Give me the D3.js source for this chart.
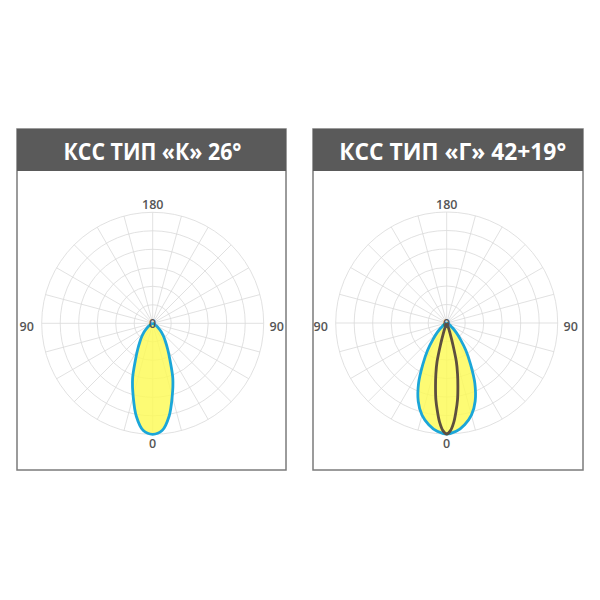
<!DOCTYPE html>
<html>
<head>
<meta charset="utf-8">
<script src="https://cdn.jsdelivr.net/npm/d3@7/dist/d3.min.js"></script>
<style>
  html, body { margin: 0; padding: 0; background: #fff; }
  svg { display: block; }
</style>
</head>
<body>
<svg id="chart" width="600" height="600"></svg>
<script>
// ---- data ----
const titles = ["КСС ТИП «К» 26°", "КСС ТИП «Г» 42+19°"];
const angleTickLabels = ["180", "90", "90", "0", "0"]; // top, left, right, bottom, centre
// angles (deg from nadir, one half; curves are symmetric)
const anglesK = [0, 5, 10, 15, 20, 25, 30, 35, 40, 45, 50, 55, 60, 70, 80, 90];
const intensityK = [100, 97, 85, 68, 53, 37, 27, 20, 15, 11, 7, 4, 2, 1, 0, 0];
const anglesGWide = [0, 5, 10, 15, 20, 25, 30, 35, 40, 45, 50, 55, 60, 70, 80, 90];
const intensityGWide = [100, 98, 93, 86, 75, 60, 43, 30, 19, 12, 7, 4, 3, 1, 0, 0];
const anglesGNarrow = [0, 2, 4, 6, 8, 10, 12, 14, 16, 18, 20, 25, 90];
const intensityGNarrow = [100, 97, 90, 80, 70, 58, 47, 36, 20, 10, 4, 0, 0];
const intensityMax = 100;
const ringCount = 6;
const spokeStep = 15;

// ---- layout ----
const svg = d3.select("#chart");
const R = 111;
const panels = [
  { x: 17, y: 129, w: 269, h: 341, cx: 152.7, cy: 323.3, titleX: 152.5, titleW: 178,
    series: [{ angles: anglesK, values: intensityK, fill: true, stroke: "#1ba6d8" }] },
  { x: 313, y: 129, w: 270, h: 341, cx: 446.7, cy: 323, titleX: 452.7, titleW: 227,
    series: [
      { angles: anglesGWide, values: intensityGWide, fill: true, stroke: "#1ba6d8" },
      { angles: anglesGNarrow, values: intensityGNarrow, fill: false, stroke: "#5d4f3f" }
    ] }
];

const r = d3.scaleLinear().domain([0, intensityMax]).range([0, R]);

function fullCurve(angles, values) {
  const pts = [];
  for (let i = angles.length - 1; i > 0; i--) pts.push([-angles[i], values[i]]);
  for (let i = 0; i < angles.length; i++) pts.push([angles[i], values[i]]);
  return pts;
}

const line = d3.lineRadial()
  .angle(d => Math.PI - d[0] * Math.PI / 180)
  .radius(d => r(d[1]))
  .curve(d3.curveCatmullRomClosed.alpha(0.5));

panels.forEach((p, pi) => {
  const g = svg.append("g");
  // frame
  g.append("rect").attr("x", p.x).attr("y", p.y).attr("width", p.w).attr("height", p.h)
    .attr("fill", "#fff").attr("stroke", "#7b7b7b").attr("stroke-width", 1.5);
  g.append("rect").attr("x", p.x).attr("y", p.y).attr("width", p.w).attr("height", 42)
    .attr("fill", "#5a5a5a");
  g.append("text").attr("x", p.titleX).attr("y", 159.5)
    .attr("text-anchor", "middle")
    .attr("font-family", "'Open Sans', sans-serif").attr("font-weight", 700)
    .attr("font-size", 24).attr("fill", "#fff")
    .attr("textLength", p.titleW).attr("lengthAdjust", "spacingAndGlyphs")
    .text(titles[pi]);

  const pg = g.append("g").attr("transform", `translate(${p.cx},${p.cy})`);
  // grid rings
  const ringVals = d3.range(1, ringCount + 1).map(i => intensityMax * i / ringCount);
  pg.selectAll("circle.ring").data(ringVals).enter().append("circle")
    .attr("r", d => r(d)).attr("fill", "none").attr("stroke", "#d9d9d9").attr("stroke-width", 0.8);
  // spokes
  pg.selectAll("line.spoke").data(d3.range(0, 360, spokeStep)).enter().append("line")
    .attr("x1", 0).attr("y1", 0)
    .attr("x2", d => r(intensityMax) * Math.sin(d * Math.PI / 180))
    .attr("y2", d => -r(intensityMax) * Math.cos(d * Math.PI / 180))
    .attr("stroke", "#d9d9d9").attr("stroke-width", 0.8);

  // fills
  p.series.filter(s => s.fill).forEach(s => {
    pg.append("path").attr("d", line(fullCurve(s.angles, s.values)))
      .attr("fill", "#fcfa55").attr("fill-opacity", 0.82).attr("stroke", "none");
  });
  // strokes
  p.series.forEach(s => {
    pg.append("path").attr("d", line(fullCurve(s.angles, s.values)))
      .attr("fill", "none").attr("stroke", s.stroke).attr("stroke-width", 2.8)
      .attr("stroke-linejoin", "round");
  });

  // labels
  const lab = (x, y, t) => pg.append("text").attr("x", x).attr("y", y)
    .attr("text-anchor", "middle").attr("dominant-baseline", "central")
    .attr("font-family", "'Open Sans', sans-serif").attr("font-weight", 600)
    .attr("font-size", 12.5).attr("fill", "#555").text(t);
  lab(0, -118.5, angleTickLabels[0]);
  lab(-126, 3, angleTickLabels[1]);
  lab(124, 3, angleTickLabels[2]);
  lab(0, 120.5, angleTickLabels[3]);
  lab(0, 0, angleTickLabels[4]);
});
</script>
</body>
</html>
